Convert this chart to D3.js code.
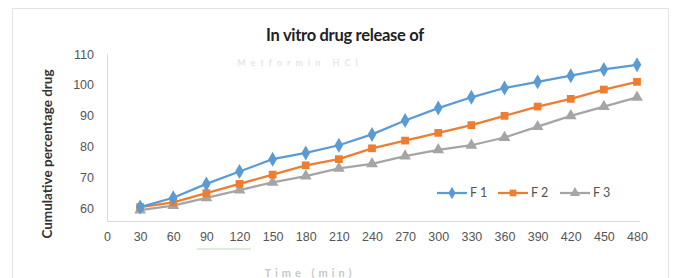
<!DOCTYPE html>
<html>
<head>
<meta charset="utf-8">
<script src="https://cdn.jsdelivr.net/npm/d3@7"></script>
<style>
  body { margin: 0; background: #fff; }
  svg { display: block; font-family: Lato, "Open Sans", sans-serif; }
</style>
</head>
<body>
<div id="chart"></div>
<script>
"use strict";
// time points (min)
var times = [30, 60, 90, 120, 150, 180, 210, 240, 270, 300, 330, 360, 390, 420, 450, 480];
var xTicks = [0, 30, 60, 90, 120, 150, 180, 210, 240, 270, 300, 330, 360, 390, 420, 450, 480];
var yTicks = [60, 70, 80, 90, 100, 110];

// cumulative % drug released
var f1 = [60.5, 63.5, 68, 72, 76, 78, 80.5, 84, 88.5, 92.5, 96, 99, 101, 103, 105, 106.5];
var f2 = [60.5, 62, 65, 68, 71, 74, 76, 79.5, 82, 84.5, 87, 90, 93, 95.5, 98.5, 101];
var f3 = [59.5, 61, 63.5, 66, 68.5, 70.5, 73, 74.5, 77, 79, 80.5, 83, 86.5, 90, 93, 96];

var seriesNames = ["F 1", "F 2", "F 3"];
var seriesColors = ["#5b9bd5", "#ed7d31", "#a5a5a5"];
var seriesShapes = [d3.symbolDiamond, d3.symbolSquare, d3.symbolTriangle];

var w = 681, h = 278;

var svg = d3.select("#chart").append("svg")
  .attr("width", w)
  .attr("height", h);

// outer chart frame
svg.append("rect")
  .attr("x", 12.5).attr("y", 8.5)
  .attr("width", 656).attr("height", 280)
  .attr("fill", "#fff")
  .attr("stroke", "#e4e4e4");

var x = d3.scaleLinear().domain([0, 480]).range([107, 637]);
var y = d3.scaleLinear().domain([56, 110]).range([221, 54]);

// axis lines
svg.append("line")
  .attr("x1", x(0)).attr("x2", 640)
  .attr("y1", 221.5).attr("y2", 221.5)
  .attr("stroke", "#d9d9d9");
svg.append("line")
  .attr("x1", 107.5).attr("x2", 107.5)
  .attr("y1", y(110)).attr("y2", 221.5)
  .attr("stroke", "#d9d9d9");

// tick labels via d3 axes, without the domain paths
var xAxis = svg.append("g")
  .attr("transform", "translate(0,232)")
  .call(d3.axisBottom(x).tickValues(xTicks).tickSize(0).tickPadding(0));
xAxis.select(".domain").remove();
xAxis.selectAll("text")
  .attr("dy", "0.71em")
  .attr("fill", "#555")
  .style("font-size", "12.5px");

var yAxis = svg.append("g")
  .attr("transform", "translate(94,0)")
  .call(d3.axisLeft(y).tickValues(yTicks).tickSize(0).tickPadding(0));
yAxis.select(".domain").remove();
yAxis.selectAll("text")
  .attr("fill", "#555")
  .style("font-size", "12.5px");

// title
svg.append("text")
  .attr("x", 345).attr("y", 41)
  .attr("text-anchor", "middle")
  .attr("font-weight", "bold")
  .attr("font-size", "16.5px")
  .attr("letter-spacing", "-0.3px")
  .attr("fill", "#222")
  .text("In vitro drug release of");

// second title line is blurred away in the picture
svg.append("text")
  .attr("x", 300).attr("y", 66)
  .attr("text-anchor", "middle")
  .attr("font-weight", "bold")
  .attr("font-size", "9px")
  .attr("fill", "#e6e6e6")
  .attr("letter-spacing", "5px")
  .text("Metformin HCl");

// axis titles
svg.append("text")
  .attr("transform", "translate(52,154) rotate(-90)")
  .attr("text-anchor", "middle")
  .attr("font-weight", "bold")
  .attr("font-size", "13.5px")
  .attr("fill", "#333")
  .text("Cumulative percentage drug");

svg.append("text")
  .attr("x", 310).attr("y", 277)
  .attr("text-anchor", "middle")
  .attr("font-weight", "bold")
  .attr("font-size", "11px")
  .attr("fill", "#c8c8c8")
  .attr("letter-spacing", "4px")
  .text("Time (min)");

// green spell-check squiggle under "90 120"
svg.append("path")
  .attr("d", "M" + (x(90) - 9) + ",249 h" + (x(120) - x(90) + 20))
  .attr("stroke", "#6cbf6c")
  .attr("stroke-width", 1)
  .attr("stroke-dasharray", "1,1");

var all = [f1, f2, f3];
var line = d3.line()
  .x(function(d, i) { return x(times[i]); })
  .y(function(d) { return y(d); });

// draw F3 first so F1 sits on top
[2, 1, 0].forEach(function(s) {
  var g = svg.append("g");
  g.append("path")
    .datum(all[s])
    .attr("fill", "none")
    .attr("stroke", seriesColors[s])
    .attr("stroke-width", 2.25)
    .attr("d", line);
  g.selectAll("path.mk")
    .data(all[s])
    .enter()
    .append("path")
    .attr("class", "mk")
    .attr("transform", function(d, i) {
      return "translate(" + x(times[i]) + "," + y(d) + ")";
    })
    .attr("d", d3.symbol().type(seriesShapes[s]).size(s == 0 ? 65 : 60))
    .attr("fill", seriesColors[s]);
});

// legend
var legX = [437, 498, 560];
seriesNames.forEach(function(n, s) {
  var lg = svg.append("g").attr("transform", "translate(" + legX[s] + ",193)");
  lg.append("line")
    .attr("x1", 0).attr("x2", 30)
    .attr("stroke", seriesColors[s])
    .attr("stroke-width", 2.25);
  lg.append("path")
    .attr("transform", "translate(15,0)")
    .attr("d", d3.symbol().type(seriesShapes[s]).size(45))
    .attr("fill", seriesColors[s]);
  lg.append("text")
    .attr("x", 33).attr("y", 0)
    .attr("dy", "0.35em")
    .attr("font-size", "12.5px")
    .attr("fill", "#555")
    .text(n);
});
</script>
</body>
</html>
